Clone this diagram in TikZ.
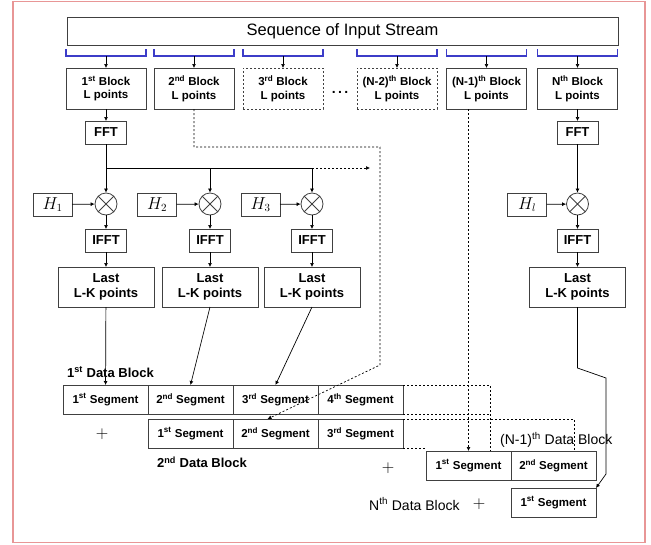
\documentclass[tikz,border=0pt]{standalone}
\usepackage{fontspec}
\setmainfont{Liberation Sans}
\usetikzlibrary{arrows.meta,positioning}
\definecolor{framered}{RGB}{232,150,150}
\definecolor{bracecol}{RGB}{60,60,200}

\tikzset{
  box/.style={draw=black!75, line width=0.8pt, align=center, inner sep=1pt, outer sep=0pt},
  blockbox/.style={box, minimum width=80pt, minimum height=41pt, font=\bfseries\fontsize{11.5}{13.5}\selectfont},
  fftbox/.style={box, minimum width=41pt, minimum height=23pt, font=\bfseries\fontsize{13}{14}\selectfont},
  hbox/.style={box, minimum width=39pt, minimum height=23pt, font=\fontsize{16}{18}\selectfont},
  lastbox/.style={box, minimum width=96pt, minimum height=40pt, font=\bfseries\fontsize{13}{15}\selectfont},
  seg/.style={box, minimum width=85pt, minimum height=29pt, font=\bfseries\fontsize{11.5}{13}\selectfont},
  mult/.style={circle, draw=black!75, line width=0.8pt, minimum size=22pt, inner sep=0pt,
    path picture={\draw[black!75, line width=0.8pt]
      (path picture bounding box.north west) -- (path picture bounding box.south east)
      (path picture bounding box.north east) -- (path picture bounding box.south west);}},
  arr/.style={-{Latex[length=4pt,width=4pt]}, line width=0.7pt},
  dotline/.style={dash pattern=on 2pt off 2pt, line width=0.7pt},
  brace/.style={draw=bracecol, line width=1.6pt},
  lbl/.style={font=\bfseries\fontsize{13}{15}\selectfont, anchor=west, inner sep=0pt},
  lblthin/.style={font=\fontsize{14}{16}\selectfont, anchor=west, inner sep=0pt},
  plus/.style={font=\fontsize{18}{18}\selectfont, inner sep=0pt},
}

\begin{document}
\begin{tikzpicture}[x=1pt, y=-1pt]
  \useasboundingbox (0,0) rectangle (651,544);
  \draw[framered, line width=1.5pt] (13,1.5) rectangle (645,542.5);

  % input stream and blocks
  \node[box, minimum width=551pt, minimum height=28pt, font=\fontsize{16.5}{18}\selectfont] (seq) at (342.5,31) {Sequence of Input Stream};
  \node[blockbox] (blk1) at (106,88.5) {1\textsuperscript{st} Block\\L points};
  \node[blockbox] (blk2) at (194,88.5) {2\textsuperscript{nd} Block\\L points};
  \node[blockbox, dotline] (blk3) at (283,88.5) {3\textsuperscript{rd} Block\\L points};
  \node[blockbox, dotline] (blk4) at (397,88.5) {(N-2)\textsuperscript{th} Block\\L points};
  \node[blockbox] (blk5) at (486.5,88.5) {(N-1)\textsuperscript{th} Block\\L points};
  \node[blockbox] (blk6) at (577.5,88.5) {N\textsuperscript{th} Block\\L points};
  \node[font=\bfseries\fontsize{14}{14}\selectfont] (dots) at (340,92) {.\,.\,.};
  \foreach \i in {1,...,6}{
    \draw[brace] ([yshift=19pt]blk\i.north west) -- ([yshift=12pt]blk\i.north west)
      -- ([yshift=12pt]blk\i.north east) -- ([yshift=19pt]blk\i.north east);
    \draw[arr] ([yshift=12pt]blk\i.north) -- (blk\i);
  }

  % filtering chains
  \node[fftbox] (fft1) at (106,132.5) {FFT};
  \node[fftbox] (fft6) at (577.5,132.5) {FFT};
  \node[mult] (mul1) at (106,204) {};
  \node[mult] (mul2) at (210,204) {};
  \node[mult] (mul3) at (312,204) {};
  \node[mult] (mul6) at (577.5,204) {};
  \node[hbox] (h1) at (52.5,204.5) {$H_1$};
  \node[hbox] (h2) at (157,204.5) {$H_2$};
  \node[hbox] (h3) at (260.5,204.5) {$H_3$};
  \node[hbox] (h6) at (527,204.5) {$H_l$};
  \foreach \n/\x in {1/106,2/210,3/312,6/577.5}{
    \node[fftbox] (ifft\n) at (\x,240.5) {IFFT};
    \node[lastbox] (last\n) at (\x,287) {Last\\L-K points};
  }
  \draw[arr] (blk1) -- (fft1);
  \draw[arr] (blk6) -- (fft6);
  \coordinate (j1) at (106,168);
  \coordinate (j2) at (210,168);
  \coordinate (j3) at (312,168);
  \coordinate (jend) at (370,168);
  \draw[line width=0.7pt] (fft1) -- (j1) -- (j3);
  \draw[arr, dotline] (j3) -- (jend);
  \foreach \n in {1,2,3} \draw[arr] (j\n) -- (mul\n);
  \draw[arr] (fft6) -- (mul6);
  \foreach \n in {1,2,3,6}{
    \draw[arr] (h\n) -- (mul\n);
    \draw[arr] (mul\n) -- (ifft\n);
    \draw[arr] (ifft\n) -- (last\n);
  }

  % data blocks
  \node[seg] (s11) at (105.5,399.5) {1\textsuperscript{st} Segment};
  \node[seg, right=0pt of s11] (s12) {2\textsuperscript{nd} Segment};
  \node[seg, right=0pt of s12] (s13) {3\textsuperscript{rd} Segment};
  \node[seg, right=0pt of s13] (s14) {4\textsuperscript{th} Segment};
  \node[seg] (s21) at (190.5,433.5) {1\textsuperscript{st} Segment};
  \node[seg, right=0pt of s21] (s22) {2\textsuperscript{nd} Segment};
  \node[seg, right=0pt of s22] (s23) {3\textsuperscript{rd} Segment};
  \node[seg] (sm1) at (468.5,465.5) {1\textsuperscript{st} Segment};
  \node[seg, right=0pt of sm1] (sm2) {2\textsuperscript{nd} Segment};
  \node[seg] (sn1) at (553.5,502.5) {1\textsuperscript{st} Segment};

  \node[lbl] (lb1) at (67,372) {1\textsuperscript{st} Data Block};
  \node[lbl] (lb2) at (157,462) {2\textsuperscript{nd} Data Block};
  \node[lblthin] (lbm) at (500,440) {(N-1)\textsuperscript{th} Data Block};
  \node[lblthin] (lbn) at (369,504) {N\textsuperscript{th} Data Block};
  \node[plus] (p1) at (102,434) {$+$};
  \node[plus] (p2) at (388,468) {$+$};
  \node[plus] (p3) at (479,504) {$+$};

  \draw[arr] (last1) -- (s11);
  \draw[arr] (last2.south) -- (s12.north);
  \draw[arr] (last3.south) -- (s13.north);
  \coordinate (k1) at (577.5,368);
  \coordinate (k2) at (606,378);
  \coordinate (k3) at (606,474);
  \draw[arr] (last6) -- (k1) -- (k2) -- (k3) -- (sn1.north east);

  \coordinate (d1) at (194,147);
  \coordinate (d2) at (380,147);
  \coordinate (d3) at (380,365);
  \draw[arr, dotline] (blk2) -- (d1) -- (d2) -- (d3) -- ([xshift=-8pt]s22.north);
  \draw[arr, dotline] (blk5.south -| sm1.north) -- (sm1.north);

  \draw[dotline] (s14.north east) -| (490,451);
  \draw[dotline] (s14.south east) -- (490,414);
  \draw[dotline] (s23.north east) -| (574,451);
  \draw[dotline] (s23.south east) -- (sm1.north west |- s23.south east);
\end{tikzpicture}
\end{document}
